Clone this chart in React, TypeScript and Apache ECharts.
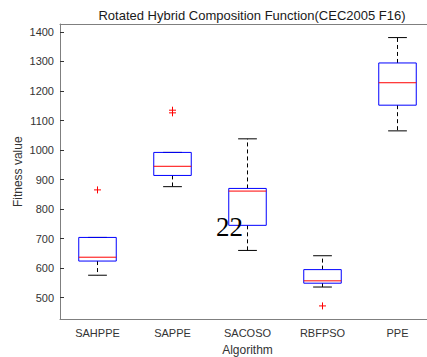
import React, { useEffect, useRef } from "react";
import * as echarts from "echarts";

// Algorithms compared on CEC2005 F16
const categories = ["SAHPPE", "SAPPE", "SACOSO", "RBFPSO", "PPE"];
// Box statistics per algorithm
const lowerWhisker = [576, 876, 660, 536, 1065];
const q1 = [624, 914, 745, 549, 1152];
const median = [637, 945, 861, 557, 1228];
const q3 = [704, 992, 870, 595, 1295];
const upperWhisker = [704, 992, 1038, 642, 1381];
// Outliers as [algorithm index, value]
const outliers: [number, number][] = [
  [0, 865],
  [1, 1135],
  [1, 1126],
  [3, 472],
];
const yTicks = [500, 600, 700, 800, 900, 1000, 1100, 1200, 1300, 1400];

const axisGray = "#7f7f7f";
const labelColor = "#333333";
const font = "'Liberation Sans', Arial, sans-serif";

export default function App() {
  const ref = useRef<HTMLDivElement>(null);

  useEffect(() => {
    if (!ref.current) return;
    const chart = echarts.init(ref.current, undefined, { renderer: "svg" });

    const boxData = categories.map((_, i) => [
      i,
      lowerWhisker[i],
      q1[i],
      median[i],
      q3[i],
      upperWhisker[i],
    ]);

    const renderBox = (params: any, api: any) => {
      const i = api.value(0);
      const band = api.size([1, 0])[0];
      const half = band * 0.25;
      const capHalf = band * 0.125;
      const c = api.coord([i, 0])[0];
      const yLow = api.coord([i, api.value(1)])[1];
      const yQ1 = api.coord([i, api.value(2)])[1];
      const yMed = api.coord([i, api.value(3)])[1];
      const yQ3 = api.coord([i, api.value(4)])[1];
      const yHigh = api.coord([i, api.value(5)])[1];
      const whiskerStyle = { stroke: "#000", lineWidth: 1, lineDash: [4, 3] };
      const capStyle = { stroke: "#000", lineWidth: 1 };
      const children: any[] = [];
      if (yHigh < yQ3 - 0.5) {
        children.push({
          type: "line",
          shape: { x1: c, y1: yQ3, x2: c, y2: yHigh },
          style: whiskerStyle,
        });
      }
      if (yLow > yQ1 + 0.5) {
        children.push({
          type: "line",
          shape: { x1: c, y1: yQ1, x2: c, y2: yLow },
          style: whiskerStyle,
        });
      }
      children.push(
        {
          type: "line",
          shape: { x1: c - capHalf, y1: yHigh, x2: c + capHalf, y2: yHigh },
          style: capStyle,
        },
        {
          type: "line",
          shape: { x1: c - capHalf, y1: yLow, x2: c + capHalf, y2: yLow },
          style: capStyle,
        },
        {
          type: "rect",
          shape: { x: c - half, y: yQ3, width: half * 2, height: yQ1 - yQ3 },
          style: { fill: "none", stroke: "#0000ff", lineWidth: 1 },
        },
        {
          type: "line",
          shape: { x1: c - half, y1: yMed, x2: c + half, y2: yMed },
          style: { stroke: "#ff0000", lineWidth: 1 },
        }
      );
      return { type: "group", children };
    };

    const renderOutlier = (params: any, api: any) => {
      const p = api.coord([api.value(0), api.value(1)]);
      const s = 3.5;
      return {
        type: "group",
        children: [
          {
            type: "line",
            shape: { x1: p[0] - s, y1: p[1], x2: p[0] + s, y2: p[1] },
            style: { stroke: "#ff0000", lineWidth: 1 },
          },
          {
            type: "line",
            shape: { x1: p[0], y1: p[1] - s, x2: p[0], y2: p[1] + s },
            style: { stroke: "#ff0000", lineWidth: 1 },
          },
        ],
      };
    };

    chart.setOption({
      animation: false,
      backgroundColor: "#ffffff",
      title: {
        text: "Rotated Hybrid Composition Function(CEC2005 F16)",
        left: 247,
        top: 4,
        textAlign: "center",
        textStyle: {
          fontSize: 13,
          fontWeight: "normal",
          color: "#1a1a1a",
          fontFamily: font,
        },
      },
      grid: {
        left: 60,
        top: 24,
        width: 375,
        height: 295.5,
        containLabel: false,
        outerBoundsMode: "none",
      },
      xAxis: [
        {
          type: "category",
          data: categories,
          boundaryGap: true,
          name: "Algorithm",
          nameLocation: "middle",
          nameGap: 24,
          nameMoveOverlap: false,
          nameTextStyle: { fontSize: 12, color: labelColor, fontFamily: font },
          axisLine: { lineStyle: { color: axisGray, width: 1 } },
          axisTick: { alignWithLabel: true, inside: true, length: 4, lineStyle: { color: "#333" } },
          axisLabel: { fontSize: 11, color: labelColor, margin: 8, fontFamily: font },
          splitLine: { show: false },
        },
        {
          type: "category",
          data: categories,
          position: "top",
          boundaryGap: true,
          axisLine: { lineStyle: { color: axisGray, width: 1 } },
          axisTick: { alignWithLabel: true, inside: true, length: 4, lineStyle: { color: "#333" } },
          axisLabel: { show: false },
          splitLine: { show: false },
        },
      ],
      yAxis: {
        type: "value",
        min: 426,
        max: 1427,
        name: "Fitness value",
        nameLocation: "middle",
        nameGap: 36,
        nameMoveOverlap: false,
        nameTextStyle: { fontSize: 12, color: labelColor, fontFamily: font },
        axisLine: { show: true, lineStyle: { color: axisGray, width: 1 } },
        axisTick: { show: true, inside: true, length: 4, customValues: yTicks, lineStyle: { color: "#333" } },
        axisLabel: {
          fontSize: 11,
          color: labelColor,
          margin: 6,
          customValues: yTicks,
          fontFamily: font,
          formatter: (v: number) => String(v),
        },
        splitLine: { show: false },
      },
      series: [
        {
          type: "custom",
          renderItem: renderBox,
          data: boxData,
          encode: { x: 0, y: [1, 2, 3, 4, 5] },
          z: 2,
        },
        {
          type: "custom",
          renderItem: renderOutlier,
          data: outliers,
          encode: { x: 0, y: 1 },
          z: 3,
        },
      ],
      graphic: [
        {
          type: "text",
          x: 216,
          y: 227,
          style: {
            text: "22",
            fontSize: 27,
            fontFamily: "'Liberation Serif', 'DejaVu Serif', serif",
            fill: "#000000",
            textAlign: "left",
            textVerticalAlign: "middle",
          },
          z: 10,
        },
      ],
    });

    return () => chart.dispose();
  }, []);

  return (
    <div
      ref={ref}
      style={{ position: "absolute", left: 0, top: 0, width: 427, height: 357 }}
    />
  );
}
